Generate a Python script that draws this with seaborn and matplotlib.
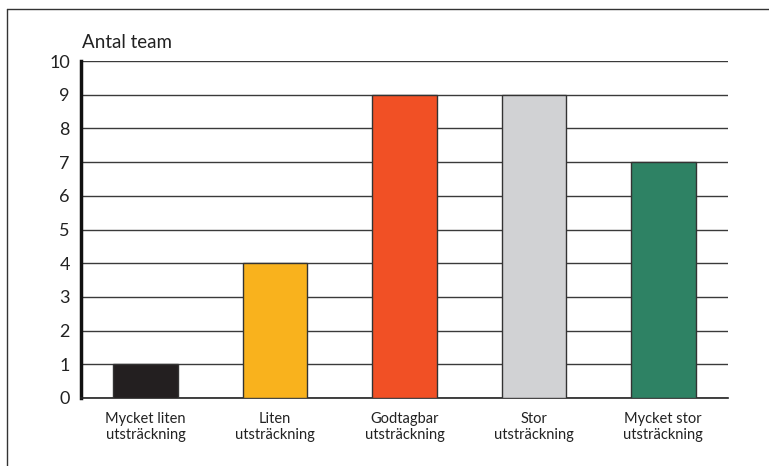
import matplotlib
matplotlib.use("Agg")
import matplotlib.pyplot as plt
import matplotlib.lines as mlines
import seaborn as sns
import pandas as pd

# data
categories = ["Mycket liten\nutsträckning", "Liten\nutsträckning", "Godtagbar\nutsträckning",
              "Stor\nutsträckning", "Mycket stor\nutsträckning"]
antal = [1, 4, 9, 9, 7]
colors = ["#231f20", "#f9b21d", "#f15025", "#d1d2d4", "#2e8264"]
yticks = list(range(0, 11))

df = pd.DataFrame({"kategori": categories, "antal": antal})

sns.set_style("white")
plt.rcParams["font.family"] = ["Lato", "DejaVu Sans"]

fig = plt.figure(figsize=(7.69, 4.66), dpi=100)
ax = fig.add_axes([81 / 769, 1 - 398 / 466, (728 - 81) / 769, (398 - 61) / 466])

sns.barplot(data=df, x="kategori", y="antal", hue="kategori", palette=colors,
            legend=False, width=0.5, edgecolor="#333333", linewidth=1.0,
            saturation=1, ax=ax, zorder=3)

ax.set_xlim(-0.5, len(categories) - 0.5)
ax.set_ylim(0, 10)
ax.set_yticks(yticks)
ax.set_yticklabels([str(v) for v in yticks], fontsize=13, color="#222222")
ax.yaxis.grid(True, color="#3a3a3a", linewidth=1.0, zorder=0)
ax.set_axisbelow(True)

ax.set_xlabel("")
ax.set_ylabel("")
ax.tick_params(axis="x", length=0, labelsize=10.5, pad=10, colors="#222222")
ax.tick_params(axis="y", length=0, pad=8)
for lbl in ax.get_xticklabels():
    lbl.set_linespacing(1.15)

# small ticks on category boundaries
ax.set_xticks([i + 0.5 for i in range(len(categories))], minor=True)
ax.tick_params(axis="x", which="minor", direction="in", length=7, width=1.0, color="#222222")

for side in ["top", "right"]:
    ax.spines[side].set_visible(False)
ax.spines["left"].set_linewidth(2.5)
ax.spines["left"].set_color("#111111")
ax.spines["bottom"].set_linewidth(1.2)
ax.spines["bottom"].set_color("#222222")

fig.text(82 / 769, 1 - 42 / 466, "Antal team", fontsize=13.5, color="#222222",
         ha="left", va="center")

# outer frame
fig.add_artist(mlines.Line2D([7 / 769, 1], [1 - 9 / 466, 1 - 9 / 466],
                             transform=fig.transFigure, color="#333333", linewidth=1.0))
fig.add_artist(mlines.Line2D([7 / 769, 7 / 769], [1 - 9 / 466, 0],
                             transform=fig.transFigure, color="#333333", linewidth=1.0))

fig.savefig("out.png", dpi=100)
